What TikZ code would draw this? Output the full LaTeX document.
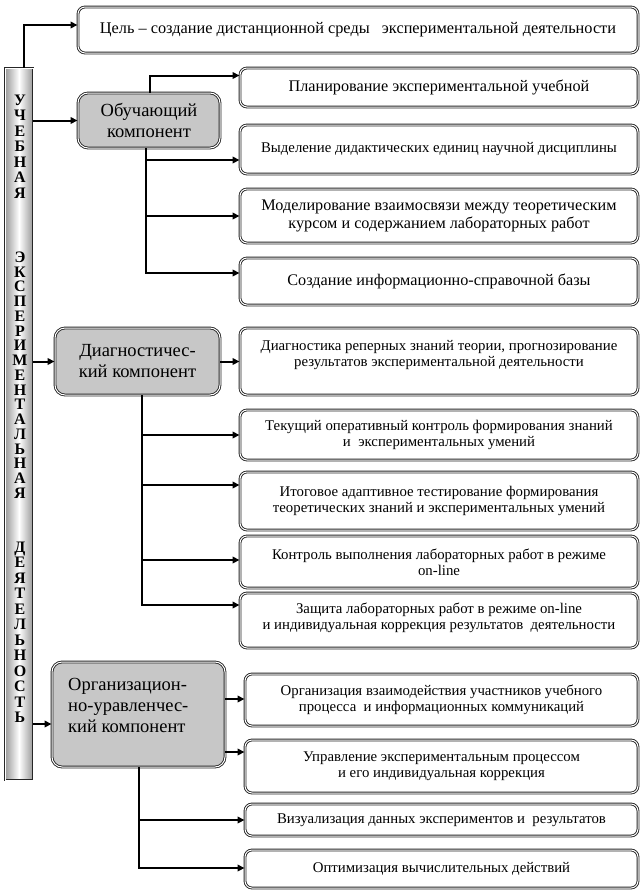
\documentclass[tikz,border=0pt]{standalone}
\usepackage{fontspec}
\setmainfont{Liberation Serif}
\usetikzlibrary{arrows.meta,positioning}
\begin{document}
\begin{tikzpicture}[x=1pt,y=-1pt,
  bx/.style={draw=black!85, line width=0.9pt, double=white, double distance=1pt,
    rounded corners=7pt, fill=white, inner sep=0pt, align=center,
    font=\fontsize{14.8}{16}\selectfont},
  big/.style={font=\fontsize{16.2}{18}\selectfont},
  comp/.style={bx, fill=black!22, rounded corners=10pt, font=\fontsize{18.5}{21}\selectfont},
  txt/.style={inner sep=0pt, align=center, font=\fontsize{14.8}{16}\selectfont},
  barw/.style={inner sep=0pt, align=center},
  arr/.style={line width=2pt, -{Triangle[length=7pt,width=6.5pt]}},
  ln/.style={line width=2pt}]
\useasboundingbox (0,0) rectangle (642,894);
% vertical bar
\node[draw=black!85, line width=0.9pt, double=white, double distance=1pt,
  left color=black!40, right color=black!40, middle color=white,
  minimum width=28, minimum height=712, inner sep=0pt] (bar) at (19,424) {};
\node[barw, font=\fontsize{16}{15.5}\selectfont\bfseries] (w1) at (20,146.5) {У\\Ч\\Е\\Б\\Н\\А\\Я};
\node[barw, font=\fontsize{16}{14.75}\selectfont\bfseries] (w2) at (20,375) {Э\\К\\С\\П\\Е\\Р\\И\\М\\Е\\Н\\Т\\А\\Л\\Ь\\Н\\А\\Я};
\node[barw, font=\fontsize{16}{15.5}\selectfont\bfseries] (w3) at (20,632.5) {Д\\Е\\Я\\Т\\Е\\Л\\Ь\\Н\\О\\С\\Т\\Ь};
% goal
\node[bx, minimum width=560, minimum height=46, font=\fontsize{16.3}{18}\selectfont] (goal) at (358,30)
  {Цель – создание дистанционной среды \ \ экспериментальной деятельности};
% components
\node[comp, minimum width=142, minimum height=55] (obu) at (149,120.5) {Обучающий\\компонент};
\node[comp, minimum width=165, minimum height=67] (diag) at (137.5,361.5) {Диагностичес-\\кий компонент};
\node[comp, minimum width=173, minimum height=105] (org) at (138.5,714.5) {};
\node[inner sep=0pt, anchor=north west, align=left, font=\fontsize{18.5}{21}\selectfont] (orgt) at (68,678)
  {Организацион-\\но-уравленчес-\\кий компонент};
% first group
\node[bx, big, minimum width=398, minimum height=39] (p1) at (439,87.5) {Планирование экспериментальной учебной};
\node[bx, minimum width=398, minimum height=49] (p2) at (439,149.5) {Выделение дидактических единиц научной дисциплины};
\node[bx, big, minimum width=398, minimum height=54] (p3) at (439,216) {Моделирование взаимосвязи между теоретическим\\курсом и содержанием лабораторных работ};
\node[bx, big, minimum width=398, minimum height=47] (p4) at (439,281.5) {Создание информационно-справочной базы};
% second group
\node[bx, minimum width=398, minimum height=67] (d1) at (439,361.5) {};
\node[txt] (d1t) at (439,355) {Диагностика реперных знаний теории, прогнозирование\\результатов экспериментальной деятельности};
\node[bx, minimum width=398, minimum height=50] (d2) at (439,435) {Текущий оперативный контроль формирования знаний\\и \ экспериментальных умений};
\node[bx, minimum width=398, minimum height=58] (d3) at (439,501) {Итоговое адаптивное тестирование формирования\\теоретических знаний и экспериментальных умений};
\node[bx, minimum width=398, minimum height=52] (d4) at (439,562) {Контроль выполнения лабораторных работ в режиме\\on-line};
\node[bx, minimum width=398, minimum height=55] (d5) at (439,620.5) {};
\node[txt] (d5t) at (439,617.5) {Защита лабораторных работ в режиме on-line\\и индивидуальная коррекция результатов \ деятельности};
% third group
\node[bx, minimum width=393, minimum height=52] (o1) at (441.5,700) {Организация взаимодействия участников учебного\\процесса \ и информационных коммуникаций};
\node[bx, minimum width=393, minimum height=53] (o2) at (441.5,766.5) {Управление экспериментальным процессом\\и его индивидуальная коррекция};
\node[bx, minimum width=393, minimum height=32] (o3) at (441.5,820) {Визуализация данных экспериментов и \ результатов};
\node[bx, minimum width=393, minimum height=38] (o4) at (441.5,869) {Оптимизация вычислительных действий};
% connectors
\draw[arr] ([xshift=5pt]bar.north) |- ([yshift=5pt]goal.west);
\draw[arr] (bar.east |- obu.west) -- (obu.west);
\draw[arr] (bar.east |- diag.west) -- (diag.west);
\draw[arr] ([yshift=-9.5pt]bar.east |- org.west) -- ([yshift=-9.5pt]org.west);
\draw[arr] ([xshift=1pt]obu.north) |- ([yshift=12pt]p1.west);
\coordinate (ob) at ([xshift=-3pt]obu.south);
\draw[arr] (ob) |- ([yshift=-10.5pt]p2.west);
\draw[arr] (ob) |- (p3.west);
\draw[arr] (ob) |- ([yshift=8.5pt]p4.west);
\draw[arr] (diag.east) -- (d1.west);
\coordinate (db) at ([xshift=4.5pt]diag.south);
\draw[arr] (db) |- (d2.west);
\draw[arr] (db) |- ([yshift=16pt]d3.west);
\draw[arr] (db) |- ([yshift=2pt]d4.west);
\draw[arr] (db) |- ([yshift=15.5pt]d5.west);
\coordinate (o1a) at ([yshift=1pt]o1.west);
\coordinate (o2a) at ([yshift=14.5pt]o2.west);
\draw[arr] (org.east |- o1a) -- (o1a);
\draw[arr] (org.east |- o2a) -- (o2a);
\coordinate (og) at (org.south);
\draw[arr] (og) |- (o3.west);
\draw[arr] (og) |- ([yshift=1pt]o4.west);
\end{tikzpicture}
\end{document}
